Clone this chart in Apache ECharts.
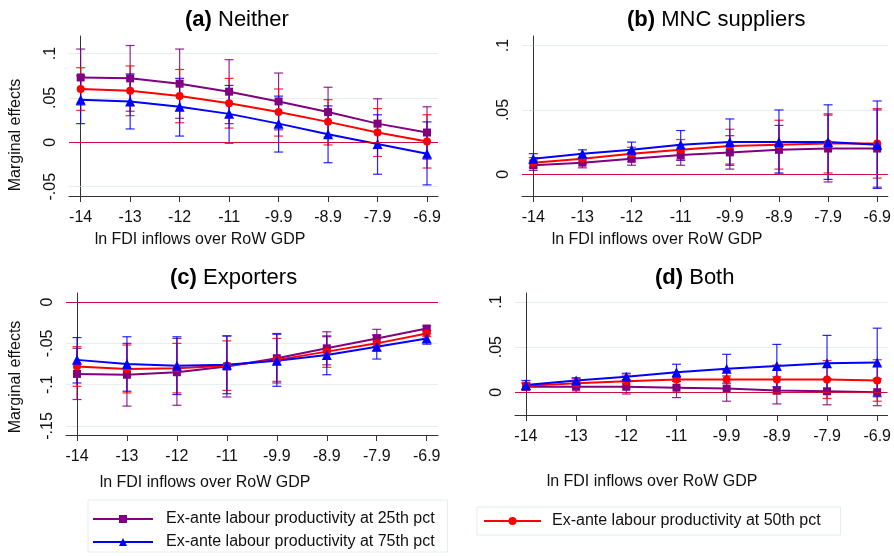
<!DOCTYPE html>
<html>
<head>
<meta charset="utf-8">
<script src="https://cdn.jsdelivr.net/npm/echarts@6/dist/echarts.min.js"></script>
<style>
  html, body { margin: 0; padding: 0; background: #fff; }
  #chart { width: 894px; height: 556px; }
</style>
</head>
<body>
<div id="chart"></div>
<script>
// x categories (ln FDI inflows over RoW GDP)
const xLabels = ['-14', '-13', '-12', '-11', '-9.9', '-8.9', '-7.9', '-6.9']

// (a) Neither
const a25 = [0.073, 0.072, 0.066, 0.057, 0.046, 0.034, 0.021, 0.011]
const a25lo = [0.042, 0.035, 0.027, 0.021, 0.014, 0.006, -0.007, -0.019]
const a25hi = [0.105, 0.109, 0.105, 0.093, 0.078, 0.062, 0.049, 0.040]
const a50 = [0.060, 0.058, 0.052, 0.044, 0.034, 0.023, 0.011, 0.001]
const a50lo = [0.036, 0.030, 0.022, 0.016, 0.007, -0.003, -0.016, -0.029]
const a50hi = [0.084, 0.086, 0.082, 0.072, 0.060, 0.048, 0.038, 0.031]
const a75 = [0.048, 0.046, 0.040, 0.032, 0.021, 0.009, -0.002, -0.013]
const a75lo = [0.021, 0.015, 0.007, -0.001, -0.011, -0.023, -0.036, -0.048]
const a75hi = [0.075, 0.077, 0.072, 0.064, 0.052, 0.041, 0.031, 0.023]

// (b) MNC suppliers
const b25 = [0.007, 0.009, 0.012, 0.015, 0.017, 0.019, 0.020, 0.020]
const b25lo = [0.003, 0.005, 0.007, 0.007, 0.004, 0.000, -0.006, -0.010]
const b25hi = [0.011, 0.013, 0.017, 0.023, 0.030, 0.038, 0.046, 0.050]
const b50 = [0.009, 0.012, 0.016, 0.019, 0.022, 0.023, 0.024, 0.024]
const b50lo = [0.005, 0.008, 0.010, 0.011, 0.008, 0.004, 0.001, -0.003]
const b50hi = [0.013, 0.016, 0.021, 0.027, 0.035, 0.042, 0.047, 0.051]
const b75 = [0.012, 0.016, 0.019, 0.023, 0.025, 0.025, 0.025, 0.023]
const b75lo = [0.009, 0.013, 0.013, 0.011, 0.007, 0.001, -0.004, -0.011]
const b75hi = [0.016, 0.019, 0.025, 0.034, 0.043, 0.050, 0.054, 0.057]

// (c) Exporters
const c25 = [-0.087, -0.088, -0.085, -0.078, -0.068, -0.056, -0.044, -0.032]
const c25lo = [-0.118, -0.126, -0.125, -0.115, -0.098, -0.076, -0.054, -0.035]
const c25hi = [-0.056, -0.050, -0.044, -0.041, -0.038, -0.036, -0.033, -0.029]
const c50 = [-0.078, -0.081, -0.080, -0.077, -0.070, -0.060, -0.050, -0.038]
const c50lo = [-0.102, -0.110, -0.110, -0.107, -0.096, -0.079, -0.059, -0.042]
const c50hi = [-0.054, -0.052, -0.050, -0.047, -0.044, -0.042, -0.040, -0.034]
const c75 = [-0.070, -0.075, -0.077, -0.076, -0.071, -0.064, -0.054, -0.044]
const c75lo = [-0.098, -0.108, -0.112, -0.111, -0.102, -0.088, -0.069, -0.051]
const c75hi = [-0.043, -0.042, -0.042, -0.041, -0.039, -0.041, -0.040, -0.038]

// (d) Both
const d25 = [0.006, 0.006, 0.006, 0.005, 0.004, 0.002, 0.001, 0.000]
const d25lo = [0.002, 0.000, -0.002, -0.006, -0.010, -0.013, -0.014, -0.015]
const d25hi = [0.010, 0.012, 0.014, 0.016, 0.018, 0.017, 0.015, 0.015]
const d50 = [0.007, 0.010, 0.012, 0.014, 0.014, 0.014, 0.014, 0.013]
const d50lo = [0.003, 0.005, 0.005, 0.006, 0.004, -0.002, -0.007, -0.010]
const d50hi = [0.011, 0.015, 0.019, 0.022, 0.024, 0.030, 0.035, 0.036]
const d75 = [0.008, 0.013, 0.017, 0.022, 0.026, 0.029, 0.032, 0.033]
const d75lo = [0.003, 0.009, 0.013, 0.012, 0.010, 0.006, 0.000, -0.005]
const d75hi = [0.013, 0.016, 0.021, 0.031, 0.042, 0.053, 0.063, 0.071]

// y tick values per panel
const aTicks = [-0.05, 0, 0.05, 0.1]
const bTicks = [0, 0.05, 0.1]
const cTicks = [-0.15, -0.1, -0.05, 0]
const dTicks = [0, 0.05, 0.1]

const names = [
  'Ex-ante labour productivity at 25th pct',
  'Ex-ante labour productivity at 50th pct',
  'Ex-ante labour productivity at 75th pct'
]
const colors = ['#800080', '#ff0000', '#0000ff']
const symbols = ['rect', 'circle', 'triangle']
const symbolSizes = [8, 8, 10]

const FONT = "'Liberation Sans', Arial, sans-serif"

// layout of each panel
const panels = [
  { title: '(a)', sub: 'Neither', tx: 185, ty: 9, grid: { left: 69, top: 36, width: 369, height: 160 },
    xr: [-0.236, 7.222], yr: [-0.0605, 0.1197], ticks: aTicks,
    est: [a25, a50, a75], lo: [a25lo, a50lo, a75lo], hi: [a25hi, a50hi, a75hi] },
  { title: '(b)', sub: 'MNC suppliers', tx: 627, ty: 9, grid: { left: 522, top: 36, width: 369, height: 160 },
    xr: [-0.23, 7.216], yr: [-0.0169, 0.1075], ticks: bTicks,
    est: [b25, b50, b75], lo: [b25lo, b50lo, b75lo], hi: [b25hi, b50hi, b75hi] },
  { title: '(c)', sub: 'Exporters', tx: 170, ty: 267, grid: { left: 66, top: 293, width: 372, height: 142 },
    xr: [-0.22, 7.226], yr: [-0.161, 0.011], ticks: cTicks,
    est: [c25, c50, c75], lo: [c25lo, c50lo, c75lo], hi: [c25hi, c50hi, c75hi] },
  { title: '(d)', sub: 'Both', tx: 655, ty: 267, grid: { left: 515, top: 293, width: 376, height: 122 },
    xr: [-0.2175, 7.206], yr: [-0.0253, 0.110], ticks: dTicks,
    est: [d25, d50, d75], lo: [d25lo, d50lo, d75lo], hi: [d25hi, d50hi, d75hi] }
]

function stataNum (v) {
  if (Math.abs(v) < 1e-9) return '0'
  return String(+v.toFixed(2)).replace('0.', '.')
}

function errorBars (color) {
  return function (params, api) {
    const x = api.value(0)
    const lo = api.coord([x, api.value(1)])
    const hi = api.coord([x, api.value(2)])
    const w = 4.5
    const st = () => ({ stroke: color, lineWidth: 1.2, opacity: 0.85 })
    return {
      type: 'group',
      children: [
        { type: 'line', shape: { x1: lo[0], y1: lo[1], x2: hi[0], y2: hi[1] }, style: st() },
        { type: 'line', shape: { x1: lo[0] - w, y1: lo[1], x2: lo[0] + w, y2: lo[1] }, style: st() },
        { type: 'line', shape: { x1: hi[0] - w, y1: hi[1], x2: hi[0] + w, y2: hi[1] }, style: st() }
      ]
    }
  }
}

const idx = xLabels.map((l, i) => i)
const grids = []
const xAxes = []
const yAxes = []
const series = []
const titles = []

panels.forEach((p, k) => {
  grids.push(p.grid)
  titles.push({
    text: '{b|' + p.title + '} ' + p.sub,
    left: p.tx,
    top: p.ty,
    padding: 0,
    textStyle: {
      fontFamily: FONT, fontSize: 22, fontWeight: 'normal', color: '#000',
      rich: { b: { fontFamily: FONT, fontSize: 22, fontWeight: 'bold', color: '#000' } }
    }
  })
  xAxes.push({
    type: 'value',
    gridIndex: k,
    min: p.xr[0],
    max: p.xr[1],
    axisLine: { show: true, onZero: false, lineStyle: { color: '#333', width: 1 } },
    axisTick: { show: true, length: 6, customValues: idx, lineStyle: { color: '#333' } },
    axisLabel: {
      customValues: idx,
      margin: 14,
      fontFamily: FONT, fontSize: 16, color: '#111',
      formatter: v => xLabels[Math.round(v)]
    },
    splitLine: { show: false }
  })
  yAxes.push({
    type: 'value',
    gridIndex: k,
    min: p.yr[0],
    max: p.yr[1],
    axisLine: { show: true, lineStyle: { color: '#333', width: 1 } },
    axisTick: { show: true, length: 4, customValues: p.ticks, lineStyle: { color: '#dde7ea' } },
    axisLabel: {
      customValues: p.ticks,
      rotate: 90,
      margin: 10,
      fontFamily: FONT, fontSize: 16, color: '#111',
      formatter: stataNum
    },
    splitLine: { show: true, lineStyle: { color: '#e6eef0', width: 1 } }
  })
  // confidence intervals behind the lines
  for (let j = 0; j < 3; j++) {
    series.push({
      type: 'custom',
      xAxisIndex: k,
      yAxisIndex: k,
      z: 1,
      silent: true,
      renderItem: errorBars(colors[j]),
      data: idx.map(i => [i, p.lo[j][i], p.hi[j][i]])
    })
  }
  for (let j = 0; j < 3; j++) {
    const s = {
      name: names[j],
      type: 'line',
      xAxisIndex: k,
      yAxisIndex: k,
      z: 3,
      symbol: symbols[j],
      symbolSize: symbolSizes[j],
      itemStyle: { color: colors[j] },
      lineStyle: { color: colors[j], width: 2 },
      data: idx.map(i => [i, p.est[j][i]])
    }
    if (j === 0) {
      s.markLine = {
        silent: true,
        symbol: 'none',
        label: { show: false },
        lineStyle: { color: '#c8103c', width: 1, type: 'solid' },
        data: [{ yAxis: 0 }]
      }
    }
    series.push(s)
  }
})

const chart = echarts.init(document.getElementById('chart'))
chart.setOption({
  animation: false,
  backgroundColor: '#fff',
  textStyle: { fontFamily: FONT },
  title: titles,
  grid: grids,
  xAxis: xAxes,
  yAxis: yAxes,
  legend: [
    {
      data: [names[0], names[2]],
      orient: 'vertical',
      left: 88,
      top: 500,
      itemWidth: 60,
      itemHeight: 10,
      itemGap: 7,
      padding: [11, 13, 2, 4],
      borderColor: '#e3ecee',
      borderWidth: 1,
      selectedMode: false,
      textStyle: { fontFamily: FONT, fontSize: 16, color: '#111', padding: [0, 0, 0, 8] }
    },
    {
      data: [names[1]],
      left: 477,
      top: 507,
      itemWidth: 57,
      itemHeight: 10,
      padding: [6, 20, 6, 6],
      borderColor: '#e3ecee',
      borderWidth: 1,
      selectedMode: false,
      textStyle: { fontFamily: FONT, fontSize: 16, color: '#111', padding: [0, 0, 0, 6] }
    }
  ],
  graphic: [
    { type: 'text', x: 16, y: 135, rotation: Math.PI / 2,
      style: { text: 'Marginal effects', font: '16px ' + FONT, fill: '#111', align: 'center', verticalAlign: 'middle' } },
    { type: 'text', x: 16, y: 377, rotation: Math.PI / 2,
      style: { text: 'Marginal effects', font: '16px ' + FONT, fill: '#111', align: 'center', verticalAlign: 'middle' } },
    { type: 'text', x: 200, y: 240,
      style: { text: 'ln FDI inflows over RoW GDP', font: '16px ' + FONT, fill: '#111', align: 'center', verticalAlign: 'middle' } },
    { type: 'text', x: 657, y: 240,
      style: { text: 'ln FDI inflows over RoW GDP', font: '16px ' + FONT, fill: '#111', align: 'center', verticalAlign: 'middle' } },
    { type: 'text', x: 205, y: 483,
      style: { text: 'ln FDI inflows over RoW GDP', font: '16px ' + FONT, fill: '#111', align: 'center', verticalAlign: 'middle' } },
    { type: 'text', x: 652, y: 482,
      style: { text: 'ln FDI inflows over RoW GDP', font: '16px ' + FONT, fill: '#111', align: 'center', verticalAlign: 'middle' } }
  ],
  series: series
})
</script>
</body>
</html>
